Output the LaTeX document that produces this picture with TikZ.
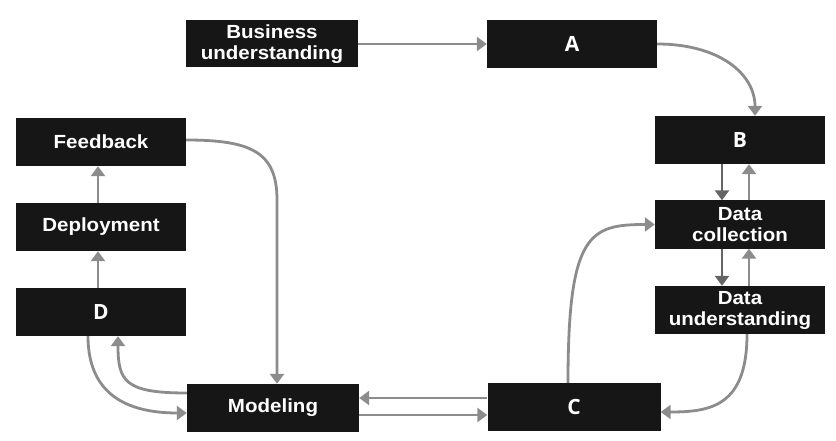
\documentclass[tikz,border=0pt]{standalone}
\usepackage{fontspec}
\setmainfont[FakeStretch=1.08]{Liberation Sans}
\newfontfamily\letterfont{Open Sans}
\usetikzlibrary{arrows.meta,calc}
\definecolor{boxblack}{RGB}{22,22,22}
\definecolor{arrgray}{RGB}{140,140,140}
\definecolor{arrdark}{RGB}{100,100,100}
\tikzset{
  stagebox/.style={fill=boxblack, draw=none, minimum width=170pt, minimum height=48pt,
    text=white, align=center, inner sep=0pt,
    font=\fontsize{19}{21}\selectfont\bfseries},
  letterbox/.style={stagebox, font=\fontsize{21}{24}\selectfont\letterfont\bfseries},
  flow/.style={draw=arrgray, line width=2.8pt, -{Triangle[width=14pt,length=10pt]}},
  flowdark/.style={flow, draw=arrdark}
}
\begin{document}
\begin{tikzpicture}[x=1pt,y=1pt]
\fill[white] (0,0) rectangle (836,440);
\useasboundingbox (0,0) rectangle (836,440);

\node[stagebox, minimum width=172pt, minimum height=47pt] (bus) at (272,396) {Business\\understanding};
\node[letterbox] (A) at (572,396) {A};
\node[letterbox] (B) at (740,300) {B};
\node[stagebox] (dc) at (740,215.5) {Data\\collection};
\node[stagebox] (du) at (740,130) {Data\\understanding};
\node[letterbox, minimum width=173pt] (C) at (574,33) {C};
\node[stagebox, minimum width=172pt] (mod) at (273,32) {Modeling};
\node[letterbox] (D) at (101,128) {D};
\node[stagebox] (dep) at (101,213) {Deployment};
\node[stagebox] (fb) at (101,298) {Feedback};

\coordinate (fbturn) at (277,240);

% top row
\draw[flow] (bus.east) -- (A.west);
\draw[flow] (A.east) .. controls +(62,0) and +(0,42) .. ([xshift=15pt]B.north);

% right column
\draw[flowdark] ([xshift=-18pt]B.south) -- ([xshift=-18pt]dc.north);
\draw[flow] ([xshift=9pt]dc.north) -- ([xshift=9pt]B.south);
\draw[flowdark] ([xshift=-18pt]dc.south) -- ([xshift=-18pt]du.north);
\draw[flow] ([xshift=9pt]du.north) -- ([xshift=9pt]dc.south);

\draw[flow] ([xshift=7pt]du.south) .. controls +(0,-72) and +(50,0) .. ([yshift=-5pt]C.east);
\draw[flow] ([xshift=-6pt]C.north) .. controls +(0,150) and +(-65,0) .. (dc.west);

% bottom row
\draw[flow] ([yshift=9pt]C.west) -- ([yshift=9pt]C.west -| mod.east);
\draw[flow] ([yshift=-8pt]C.west -| mod.east) -- ([yshift=-8pt]C.west);

% left column
\draw[flow] ([yshift=15pt]mod.west) .. controls +(-62,0) and +(0,-45) .. ([xshift=17pt]D.south);
\draw[flow] ([xshift=-13pt]D.south) .. controls +(0,-58) and +(-60,0) .. ([yshift=-5pt]mod.west);
\draw[flow] ([xshift=-3pt]D.north) -- ([xshift=-3pt]dep.south);
\draw[flow] ([xshift=-3pt]dep.north) -- ([xshift=-3pt]fb.south);

\draw[flow] ([yshift=2pt]fb.east) .. controls +(65,0) and +(0,48) .. (fbturn) -- (fbturn |- mod.north);
\end{tikzpicture}
\end{document}
